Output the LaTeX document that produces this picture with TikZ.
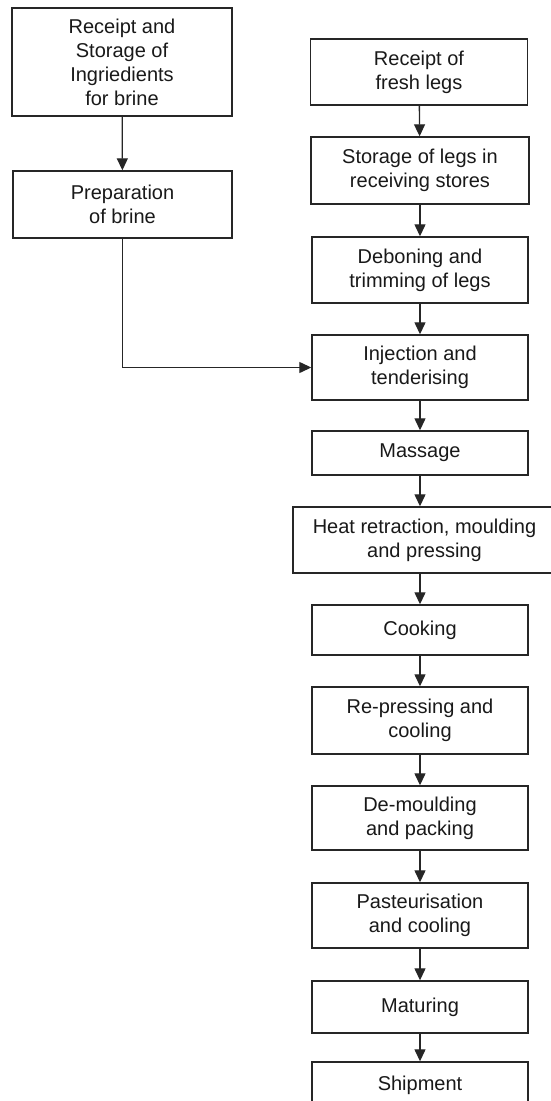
\documentclass[tikz,border=0pt]{standalone}
\usepackage{fontspec}
\setmainfont{Liberation Sans}
\usetikzlibrary{arrows.meta}
\tikzset{
  box/.style={draw=black!85, line width=1.4pt, fill=white, align=center, inner sep=0pt,
    font=\fontsize{20}{24}\selectfont, text=black!90},
  arr/.style={draw=black!85, line width=1.3pt, -{Triangle[length=12pt,width=11pt]}},
}
\begin{document}
\begin{tikzpicture}[x=1pt,y=-1pt]
\useasboundingbox (0,0) rectangle (551,1101);
\clip (0,0) rectangle (551,1101);
% left column
\node[box, minimum width=220pt, minimum height=108pt] (L1) at (122,62) {Receipt and\\Storage of\\Ingriedients\\for brine};
\node[box, minimum width=219pt, minimum height=67pt] (L2) at (122.5,204.5) {Preparation\\of brine};
% right column
\node[box, minimum width=217pt, minimum height=66pt] (R1) at (419,72) {Receipt of\\fresh legs};
\node[box, minimum width=218pt, minimum height=67pt] (R2) at (420,170.5) {Storage of legs in\\receiving stores};
\node[box, minimum width=216pt, minimum height=66pt] (R3) at (420,270) {Deboning and\\trimming of legs};
\node[box, minimum width=216pt, minimum height=65pt] (R4) at (420,367.5) {Injection and\\tenderising};
\node[box, minimum width=216pt, minimum height=44pt] (R5) at (420,453) {Massage};
\node[box, minimum width=263pt, minimum height=66pt] (R6) at (424.5,540) {Heat retraction, moulding\\and pressing};
\node[box, minimum width=216pt, minimum height=50pt] (R7) at (420,630) {Cooking};
\node[box, minimum width=216pt, minimum height=67pt] (R8) at (420,720.5) {Re-pressing and\\cooling};
\node[box, minimum width=216pt, minimum height=64pt] (R9) at (420,818) {De-moulding\\and packing};
\node[box, minimum width=216pt, minimum height=65pt] (R10) at (420,915.5) {Pasteurisation\\and cooling};
\node[box, minimum width=216pt, minimum height=52pt] (R11) at (420,1007) {Maturing};
\node[box, minimum width=216pt, minimum height=46pt] (R12) at (420,1085) {Shipment};
% connectors
\draw[arr] (L1) -- (L2);
\draw[arr] (L2.south) |- (R4.west);
\draw[arr] (R1) -- (R2);
\draw[arr] (R2) -- (R3);
\draw[arr] (R3) -- (R4);
\draw[arr] (R4) -- (R5);
\draw[arr] (R5.south) -- (R5.south |- R6.north);
\draw[arr] (R6.south -| R7.north) -- (R7.north);
\draw[arr] (R7) -- (R8);
\draw[arr] (R8) -- (R9);
\draw[arr] (R9) -- (R10);
\draw[arr] (R10) -- (R11);
\draw[arr] (R11) -- (R12);
\end{tikzpicture}
\end{document}
